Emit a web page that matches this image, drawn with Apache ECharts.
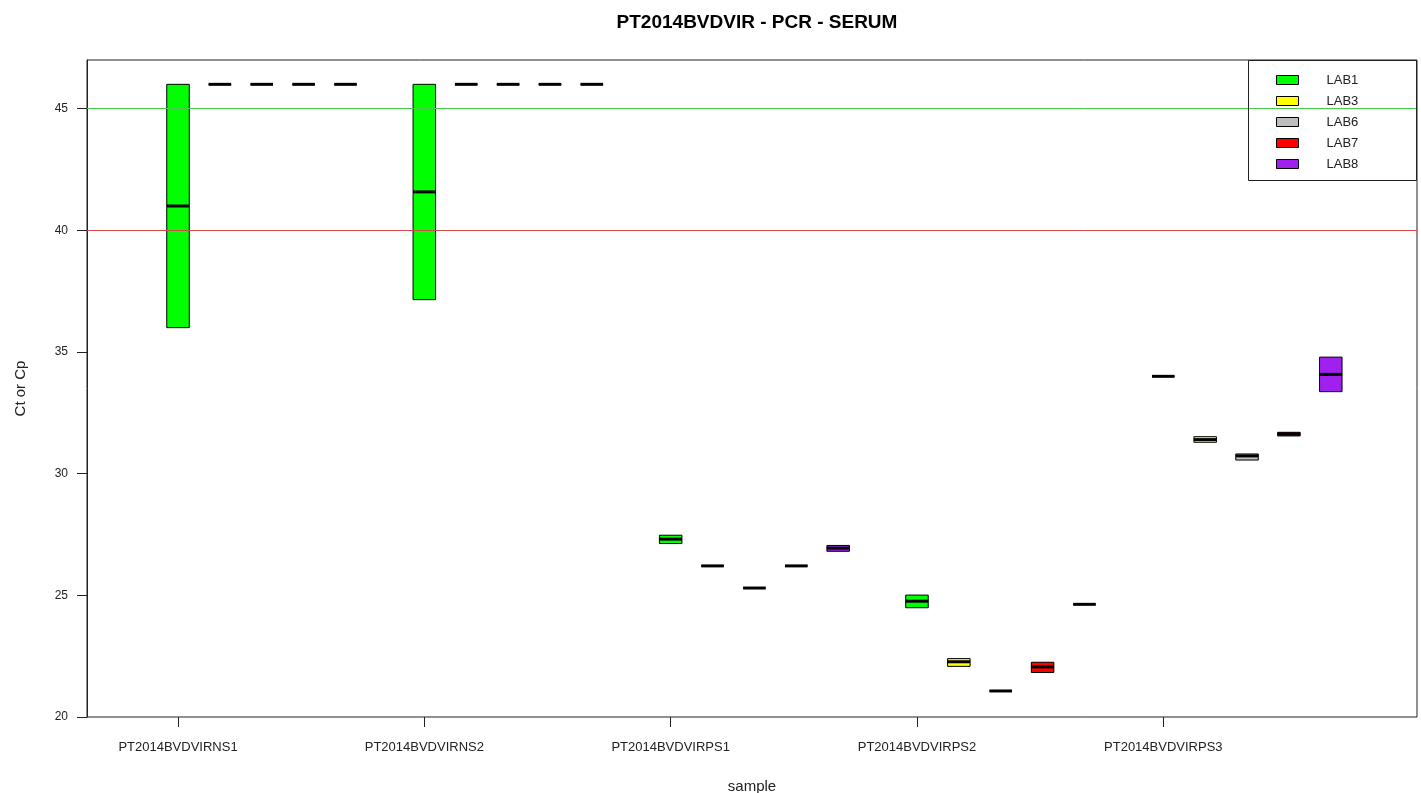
<!DOCTYPE html>
<html>
<head>
<meta charset="utf-8">
<title>PT2014BVDVIR - PCR - SERUM</title>
<script src="https://cdn.jsdelivr.net/npm/echarts@6/dist/echarts.min.js"></script>
<style>
  html, body { margin: 0; padding: 0; background: #fff; }
  #chart { width: 1421px; height: 793px; }
</style>
</head>
<body>
<div id="chart"></div>
<script>
// Samples shown on the x axis and labs drawn within each sample
const samples = ['PT2014BVDVIRNS1', 'PT2014BVDVIRNS2', 'PT2014BVDVIRPS1', 'PT2014BVDVIRPS2', 'PT2014BVDVIRPS3'];
const labs = ['LAB1', 'LAB3', 'LAB6', 'LAB7', 'LAB8'];

// Per lab, per sample: [lower hinge, median, upper hinge] of Ct / Cp
const LAB1 = [[36.0, 41.0, 46.0], [37.15, 41.58, 46.0], [27.13, 27.31, 27.47], [24.49, 24.76, 25.01], [34.0, 34.0, 34.0]];
const LAB3 = [[46.0, 46.0, 46.0], [46.0, 46.0, 46.0], [26.21, 26.21, 26.21], [22.08, 22.27, 22.40], [31.29, 31.40, 31.52]];
const LAB6 = [[46.0, 46.0, 46.0], [46.0, 46.0, 46.0], [25.30, 25.30, 25.30], [21.07, 21.07, 21.07], [30.56, 30.73, 30.81]];
const LAB7 = [[46.0, 46.0, 46.0], [46.0, 46.0, 46.0], [26.21, 26.21, 26.21], [21.83, 22.06, 22.25], [31.55, 31.63, 31.70]];
const LAB8 = [[46.0, 46.0, 46.0], [46.0, 46.0, 46.0], [26.81, 26.94, 27.05], [24.63, 24.63, 24.63], [33.37, 34.08, 34.79]];
const labValues = [LAB1, LAB3, LAB6, LAB7, LAB8];

// Threshold lines
const upperCutoff = 45;
const lowerCutoff = 40;

// Y axis tick labels
const yTicks = [20, 25, 30, 35, 40, 45];

// Layout / style
const labColors = ['#00ff00', '#ffff00', '#bebebe', '#ff0000', '#a020f0'];
const LAB_STEP = 0.17;     // offset between labs inside one sample
const BOX_WIDTH = 0.0914;  // box width in x-axis units

const chart = echarts.init(document.getElementById('chart'), null, { renderer: 'canvas' });

function boxRenderer(color) {
  return function (params, api) {
    const x = api.value(0);
    const lo = api.value(1), med = api.value(2), hi = api.value(3);
    const w = api.size([BOX_WIDTH, 0])[0];
    const pHi = api.coord([x, hi]);
    const pLo = api.coord([x, lo]);
    const pMed = api.coord([x, med]);
    return {
      type: 'group',
      children: [
        {
          type: 'rect',
          shape: { x: pHi[0] - w / 2, y: pHi[1], width: w, height: pLo[1] - pHi[1] },
          style: { fill: color, stroke: '#000', lineWidth: 1 }
        },
        {
          type: 'line',
          shape: { x1: pMed[0] - w / 2, y1: pMed[1], x2: pMed[0] + w / 2, y2: pMed[1] },
          style: { stroke: '#000', lineWidth: 3 }
        }
      ]
    };
  };
}

const series = labs.map((lab, j) => ({
  name: lab,
  type: 'custom',
  renderItem: boxRenderer(labColors[j]),
  itemStyle: { color: labColors[j], borderColor: '#000', borderWidth: 1 },
  encode: { x: 0, y: [1, 2, 3] },
  data: labValues[j].map((v, i) => [i + j * LAB_STEP, v[0], v[1], v[2]]),
  z: 2
}));

// Horizontal cutoff lines, drawn above the boxes
function cutoffSeries(name, value, color) {
  return {
    name: name,
    type: 'line',
    data: [],
    silent: true,
    z: 5,
    markLine: {
      silent: true,
      symbol: 'none',
      label: { show: false },
      animation: false,
      lineStyle: { color: color, width: 1, type: 'solid', opacity: 1 },
      emphasis: { disabled: true },
      data: [{ yAxis: value }]
    }
  };
}
series.push(cutoffSeries('cutoff45', upperCutoff, '#46cc46'));
series.push(cutoffSeries('cutoff40', lowerCutoff, '#d44a4a'));

const option = {
  animation: false,
  backgroundColor: '#fff',
  textStyle: { fontFamily: 'Liberation Sans, Arial, sans-serif' },
  title: {
    text: 'PT2014BVDVIR - PCR - SERUM',
    left: 752,
    textAlign: 'center',
    top: 8,
    textStyle: { fontSize: 19, fontWeight: 'bold', color: '#000', fontFamily: 'Liberation Sans, Arial, sans-serif' }
  },
  grid: {
    left: 87, right: 4, top: 60, bottom: 76,
    outerBoundsMode: 'none',
    containLabel: false,
    show: true, borderColor: '#222', borderWidth: 1, backgroundColor: 'transparent'
  },
  legend: {
    orient: 'vertical',
    left: 1276,
    top: 73,
    padding: 0,
    itemWidth: 22,
    itemHeight: 9,
    itemGap: 7,
    icon: 'rect',
    data: labs,
    itemStyle: { borderColor: '#000', borderWidth: 1 },
    textStyle: { fontSize: 13, color: '#222', lineHeight: 14, padding: [0, 0, 0, 23], fontFamily: 'Liberation Sans, Arial, sans-serif' }
  },
  graphic: [
    {
      type: 'rect',
      shape: { x: 1248.5, y: 60.5, width: 168, height: 120 },
      style: { fill: 'none', stroke: '#222', lineWidth: 1 },
      z: 10
    }
  ],
  xAxis: {
    type: 'value',
    min: -0.3695,
    max: 5.030,
    name: 'sample',
    nameLocation: 'middle',
    nameGap: 62,
    nameTextStyle: { fontSize: 15, color: '#222' },
    axisLine: { show: false, onZero: false },
    splitLine: { show: false },
    axisTick: {
      show: true, inside: false, length: 10,
      customValues: samples.map((s, i) => i),
      lineStyle: { color: '#222' }
    },
    axisLabel: {
      customValues: samples.map((s, i) => i),
      formatter: v => samples[Math.round(v)] || '',
      margin: 24,
      fontSize: 13,
      color: '#222'
    }
  },
  yAxis: {
    type: 'value',
    min: 20,
    max: 47,
    interval: 5,
    name: 'Ct or Cp',
    nameLocation: 'middle',
    nameRotate: 90,
    nameGap: 59,
    nameTextStyle: { fontSize: 15, color: '#222' },
    axisLine: { show: true, onZero: false, lineStyle: { color: '#222' } },
    splitLine: { show: false },
    axisTick: {
      show: true, inside: false, length: 10,
      customValues: yTicks,
      lineStyle: { color: '#222' }
    },
    axisLabel: {
      customValues: yTicks,
      margin: 19,
      fontSize: 12,
      color: '#222'
    }
  },
  series: series
};

chart.setOption(option);
</script>
</body>
</html>
